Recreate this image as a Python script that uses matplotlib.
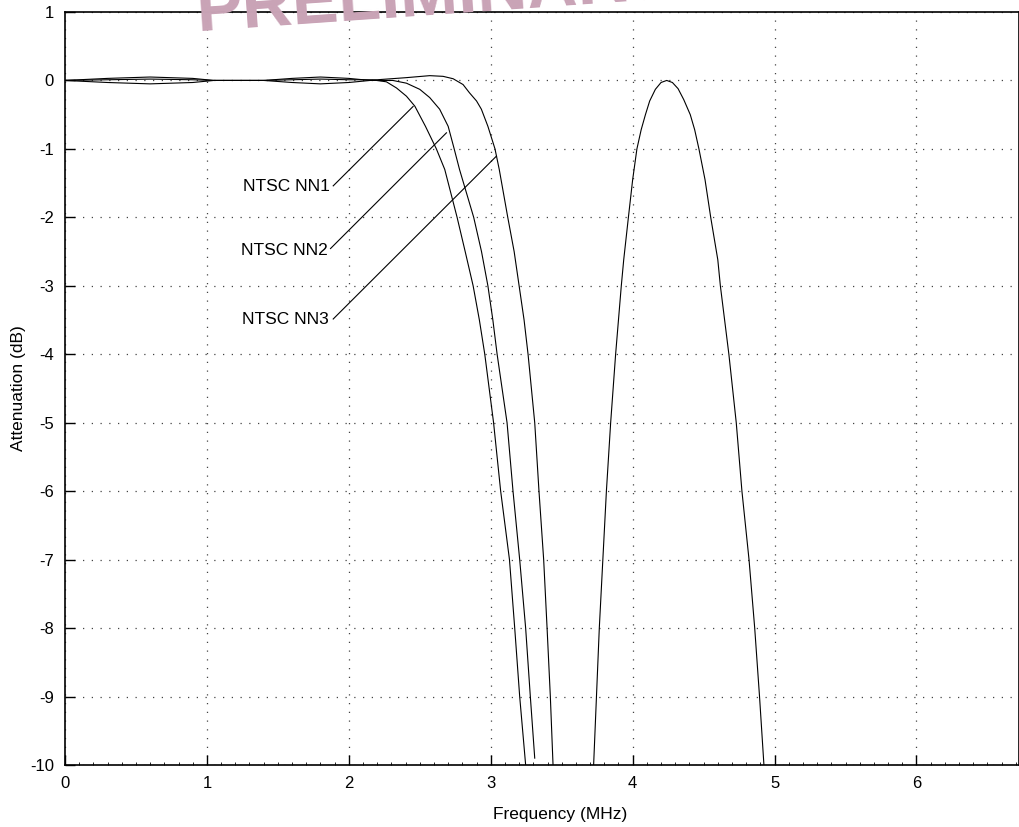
import matplotlib.pyplot as plt
from matplotlib.ticker import MultipleLocator

plt.rcParams['font.family'] = ['Liberation Sans', 'DejaVu Sans']
plt.rcParams['axes.unicode_minus'] = False

# NTSC NN1
nn1_x = [0, 0.3, 0.6, 0.9, 1.05, 1.4, 1.6, 1.8, 2.0, 2.15, 2.195, 2.265, 2.336, 2.406,
         2.465, 2.54, 2.617, 2.676, 2.763, 2.82, 2.876, 2.92, 2.958, 3.02, 3.07, 3.132,
         3.169, 3.204, 3.246]
nn1_y = [0, -0.03, -0.05, -0.03, 0, 0, 0.03, 0.05, 0.03, 0, 0, -0.02, -0.11, -0.23,
         -0.375, -0.67, -1.0, -1.3, -2.0, -2.5, -3.0, -3.5, -4.0, -5.0, -6.0, -7.0,
         -8.0, -9.0, -10.0]

# NTSC NN2
nn2_x = [0, 0.3, 0.6, 0.9, 1.05, 1.4, 1.6, 1.8, 2.0, 2.15, 2.31, 2.406, 2.5, 2.57,
         2.64, 2.70, 2.74, 2.78, 2.88, 2.935, 2.98, 3.015, 3.045, 3.115, 3.157, 3.204,
         3.246, 3.279, 3.31]
nn2_y = [0, 0.03, 0.05, 0.03, 0, 0, -0.03, -0.05, -0.03, 0, 0, -0.04, -0.13, -0.25,
         -0.42, -0.67, -0.98, -1.3, -2.0, -2.5, -3.0, -3.5, -4.0, -5.0, -6.0, -7.0,
         -8.0, -9.0, -9.9]

# NTSC NN3
nn3_x = [0, 0.3, 0.6, 0.9, 1.05, 1.4, 1.6, 1.8, 2.0, 2.2, 2.4, 2.57, 2.664, 2.735,
         2.805, 2.85, 2.9, 2.934, 2.98, 3.03, 3.06, 3.12, 3.165, 3.20, 3.235, 3.263,
         3.31, 3.34, 3.373, 3.397, 3.42, 3.439]
nn3_y = [0, 0.01, 0.02, 0.01, 0, 0, 0.01, 0.02, 0.01, 0.01, 0.04, 0.07, 0.06, 0.025,
         -0.06, -0.18, -0.30, -0.42, -0.67, -1.0, -1.3, -2.0, -2.5, -3.0, -3.5, -4.0,
         -5.0, -6.0, -7.0, -8.0, -9.0, -10.0]

# stopband lobe
lobe_x = [3.725, 3.745, 3.765, 3.79, 3.815, 3.845, 3.88, 3.92, 3.937, 3.97, 4.0, 4.03,
          4.06, 4.09, 4.12, 4.16, 4.2, 4.24, 4.28, 4.32, 4.36, 4.406, 4.437, 4.467,
          4.51, 4.55, 4.60, 4.618, 4.678, 4.73, 4.77, 4.82, 4.86, 4.894, 4.925]
lobe_y = [-10, -9, -8, -7, -6, -5, -4, -3, -2.62, -2, -1.45, -1,
          -0.72, -0.5, -0.3, -0.13, -0.03, 0, -0.03, -0.12, -0.28, -0.5, -0.72, -1,
          -1.45, -2, -2.62, -3, -4, -5, -6, -7, -8, -9, -10]

labels = ['NTSC NN1', 'NTSC NN2', 'NTSC NN3']
label_xy = [(1.87, -1.555), (1.85, -2.48), (1.86, -3.49)]
leader_end = [(2.453, -0.38), (2.688, -0.765), (3.04, -1.106)]
leader_start = [(1.89, -1.54), (1.871, -2.456), (1.89, -3.485)]

fig = plt.figure(figsize=(10.2, 8.27), dpi=100)
ax = fig.add_axes([0.0637, 0.075, 0.935, 0.9105])

for xs, ys in [(nn1_x, nn1_y), (nn2_x, nn2_y), (nn3_x, nn3_y), (lobe_x, lobe_y)]:
    ax.plot(xs, ys, color='black', lw=0.8)

for lab, (tx, ty), (sx, sy), (ex, ey) in zip(labels, label_xy, leader_start, leader_end):
    ax.plot([sx, ex], [sy, ey], color='black', lw=0.8)
    ax.text(tx, ty, lab, ha='right', va='center', fontsize=12.5)

ax.set_xlim(0, 6.72)
ax.set_ylim(-10, 1)
ax.xaxis.set_major_locator(MultipleLocator(1))
ax.xaxis.set_minor_locator(MultipleLocator(0.1))
ax.yaxis.set_major_locator(MultipleLocator(1))
ax.tick_params(which='major', direction='in', length=7, width=1, labelsize=12, pad=8)
ax.tick_params(which='minor', direction='in', length=2.5, width=0.6)
ax.grid(True, which='major', color='#444444', lw=0.9, linestyle=(0, (1, 6)))
for s in ax.spines.values():
    s.set_linewidth(1.2)

ax.set_xlabel('Frequency (MHz)', fontsize=12.5, va='center')
ax.xaxis.set_label_coords(0.519, -0.0664)
ax.set_ylabel('Attenuation (dB)', fontsize=12.5, labelpad=2.5)

# watermark, mostly off the top of the page
fig.text(0.425, 0.962, 'PRELIMINARY', fontsize=50, color='#c9a3b6', ha='center',
         va='baseline', rotation=4, fontweight='bold', zorder=0)

fig.savefig('out.png', dpi=100)
